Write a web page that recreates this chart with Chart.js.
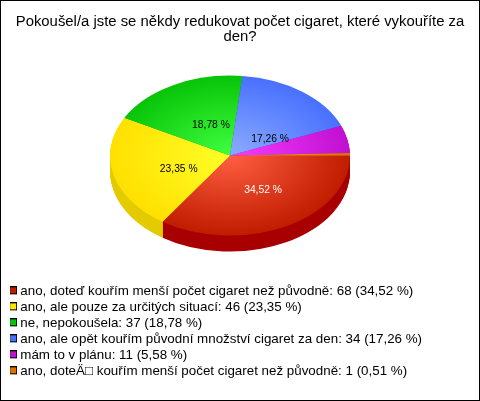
<!DOCTYPE html>
<html><head><meta charset="utf-8">
<style>html,body{margin:0;padding:0;background:#fff}canvas{display:block;outline:1px solid #000;outline-offset:-1px}</style>
<script src="https://cdn.jsdelivr.net/npm/chart.js@4"></script>
</head><body>
<canvas id="c" width="480" height="401"></canvas>
<script>
const titleLines = ["Pokoušel/a jste se někdy redukovat počet cigaret, které vykouříte za", "den?"];
const categories = ["ano, doteď kouřím menší počet cigaret než původně", "ano, ale pouze za určitých situací", "ne, nepokoušela", "ano, ale opět kouřím původní množství cigaret za den", "mám to v plánu", "ano, doteÄ\u25A1 kouřím menší počet cigaret než původně"];
const values = [68, 46, 37, 34, 11, 1];
const percents = ["34,52", "23,35", "18,78", "17,26", "5,58", "0,51"];
const innerColors = ["#ff5f40", "#ffff28", "#40ff40", "#8cacff", "#f83cff", "#ffa040"];
const outerColors = ["#c01c00", "#ffe000", "#08c408", "#4870ff", "#c010d0", "#e07000"];
const wallColors = ["#a80000", "#e3cb00", "#069006", "#3050c0", "#900a9c", "#a85000"];
const swatchColors = ["#c01c00", "#ffe800", "#08c408", "#4870ff", "#c010d0", "#e07000"];
const labelColors = ["#fff", "#000", "#000", "#000"];
const labelNudge = [[5, -1], [7, 4], [9, 5], [4, 16]];

const PIE = {cx: 230, cy: 155.6, rx: 120, ry: 80, depth: 16};

function swatch(color) {
  const s = document.createElement("canvas");
  s.width = 8; s.height = 10;
  const g = s.getContext("2d");
  g.fillStyle = "#000"; g.fillRect(0, 0, 8, 8);
  g.fillStyle = color; g.fillRect(1, 1, 6, 6);
  return s;
}
const swatches = swatchColors.map(swatch);

function pieTransform(ctx, arc, dy) {
  ctx.translate(PIE.cx, PIE.cy + dy);
  ctx.scale(1, PIE.ry / PIE.rx);
  ctx.translate(-arc.x, -arc.y);
}

const tiltedPie = {
  id: "tiltedPie",
  beforeDatasetsDraw(chart) {
    const ctx = chart.ctx, arcs = chart.getDatasetMeta(0).data;
    for (let d = PIE.depth; d >= 1; d--) {
      arcs.forEach((arc, i) => {
        const saved = arc.options;
        const o = Object.create(saved);
        o.backgroundColor = wallColors[i];
        ctx.save();
        pieTransform(ctx, arc, d);
        arc.options = o;
        arc.draw(ctx);
        arc.options = saved;
        ctx.restore();
      });
    }
    ctx.save();
    pieTransform(ctx, arcs[0], 0);
  },
  afterDatasetsDraw(chart) {
    const ctx = chart.ctx, arcs = chart.getDatasetMeta(0).data;
    ctx.restore();
    ctx.save();
    ctx.font = '10.3px "Liberation Sans"';
    ctx.textAlign = "center";
    ctx.textBaseline = "middle";
    labelNudge.forEach((n, i) => {
      const arc = arcs[i], p = arc.tooltipPosition();
      const x = PIE.cx + (p.x - arc.x) + n[0];
      const y = PIE.cy + (p.y - arc.y) * PIE.ry / PIE.rx + n[1];
      ctx.fillStyle = labelColors[i];
      ctx.fillText(percents[i] + " %", x, y);
    });
    ctx.restore();
  }
};

new Chart(document.getElementById("c"), {
  type: "pie",
  plugins: [tiltedPie],
  data: {
    labels: categories,
    datasets: [{
      data: values,
      clip: false,
      borderWidth: 0,
      backgroundColor(c) {
        const a = c.chart.chartArea;
        if (!a) return outerColors[c.dataIndex];
        const x = (a.left + a.right) / 2, y = (a.top + a.bottom) / 2;
        const g = c.chart.ctx.createRadialGradient(x, y, 0, x, y, PIE.rx);
        g.addColorStop(0, innerColors[c.dataIndex]);
        g.addColorStop(1, outerColors[c.dataIndex]);
        return g;
      }
    }]
  },
  options: {
    responsive: false,
    animation: false,
    radius: PIE.rx,
    rotation: 90,
    layout: {padding: {left: 10, right: 10, top: 0, bottom: 13}},
    plugins: {
      tooltip: {enabled: false},
      title: {
        display: true,
        text: titleLines,
        color: "#000",
        font: {family: '"Liberation Sans"', size: 14.87, weight: "normal", lineHeight: 1.03},
        padding: {top: 14, bottom: 10}
      },
      legend: {
        position: "bottom",
        align: "start",
        labels: {
          color: "#000",
          font: {family: '"Liberation Sans"', size: 13.37},
          padding: 2.63,
          usePointStyle: true,
          pointStyleWidth: 1,
          generateLabels() {
            return categories.map((name, i) => ({
              text: name + ": " + values[i] + " (" + percents[i] + " %)",
              pointStyle: swatches[i],
              fillStyle: swatchColors[i],
              strokeStyle: "#000",
              lineWidth: 0,
              hidden: false,
              index: i
            }));
          }
        }
      }
    }
  }
});
</script>
</body></html>
